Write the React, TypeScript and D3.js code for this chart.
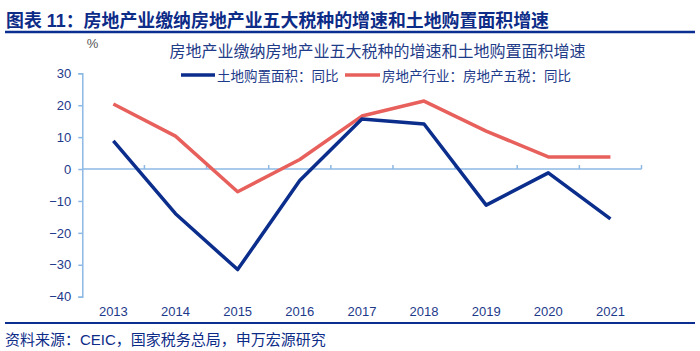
import React, { useEffect, useRef } from 'react';
import * as d3 from 'd3';

const years = ['2013', '2014', '2015', '2016', '2017', '2018', '2019', '2020', '2021'];
const landArea = [8.8, -14.0, -31.5, -3.6, 15.7, 14.1, -11.3, -1.2, -15.6];
const fiveTaxes = [20.4, 10.3, -7.1, 3.0, 16.6, 21.3, 11.9, 3.8, 3.8];
const yTicks = [-40, -30, -20, -10, 0, 10, 20, 30];

const seriesNames = ['土地购置面积：同比', '房地产行业：房地产五税：同比'];
const headerTitle = '图表 11：房地产业缴纳房地产业五大税种的增速和土地购置面积增速';
const chartTitle = '房地产业缴纳房地产业五大税种的增速和土地购置面积增速';
const sourceText = '资料来源：CEIC，国家税务总局，申万宏源研究';

const FONT = '"Liberation Sans", Arial, "Noto Sans CJK SC", sans-serif';

const App: React.FC = () => {
  const svgRef = useRef<SVGSVGElement | null>(null);

  useEffect(() => {
    if (!svgRef.current) return;
    const W = 700;
    const H = 351;
    const svg = d3.select(svgRef.current).attr('width', W).attr('height', H);
    svg.selectAll('*').remove();

    const navy = '#0b2d8c';
    const red = '#e8605c';
    const axisColor = '#8db8e4';
    const textBlue = '#1d3a8a';

    // header
    svg
      .append('text')
      .attr('x', 6)
      .attr('y', 27)
      .attr('font-family', FONT)
      .attr('font-size', 18)
      .attr('font-weight', 'bold')
      .attr('fill', '#0d2c88')
      .attr('textLength', 543)
      .attr('lengthAdjust', 'spacingAndGlyphs')
      .text(headerTitle);
    svg
      .append('line')
      .attr('x1', 5)
      .attr('x2', 695)
      .attr('y1', 32)
      .attr('y2', 32)
      .attr('stroke', '#0b2f91')
      .attr('stroke-width', 2.5);

    // scales
    const left = 82.3;
    const right = 641.5;
    const x = d3.scaleBand<string>().domain(years).range([left, right]).padding(0);
    const cx = (d: string) => x(d)! + x.bandwidth() / 2;
    const y = d3.scaleLinear().domain([-40, 30]).range([296.7, 73.3]);

    // y axis
    const yAxis = svg
      .append('g')
      .attr('transform', `translate(${left},0)`)
      .call(d3.axisLeft(y).tickValues(yTicks).tickSize(4).tickPadding(7));
    yAxis.selectAll('path, line').attr('stroke', axisColor).attr('stroke-width', 1.5);
    yAxis
      .selectAll('text')
      .attr('font-family', FONT)
      .attr('font-size', 13)
      .attr('fill', textBlue);

    // x axis line at zero with ticks on category boundaries
    const y0 = y(0);
    svg
      .append('line')
      .attr('x1', left)
      .attr('x2', right)
      .attr('y1', y0)
      .attr('y2', y0)
      .attr('stroke', axisColor)
      .attr('stroke-width', 1.5);
    const bounds = years.slice(1).map(d => x(d)!).concat([right]);
    svg
      .selectAll('line.xtick')
      .data(bounds)
      .enter()
      .append('line')
      .attr('class', 'xtick')
      .attr('x1', d => d)
      .attr('x2', d => d)
      .attr('y1', y0)
      .attr('y2', y0 - 4)
      .attr('stroke', axisColor)
      .attr('stroke-width', 1.5);

    // category labels at the bottom
    const xAxis = svg
      .append('g')
      .attr('transform', `translate(0,${y(-40)})`)
      .call(d3.axisBottom(x).tickSize(0).tickPadding(10));
    xAxis.select('.domain').remove();
    xAxis
      .selectAll('text')
      .attr('font-family', FONT)
      .attr('font-size', 13)
      .attr('fill', textBlue);

    // lines
    const line = d3
      .line<number>()
      .x((_, i) => cx(years[i]))
      .y(d => y(d));
    svg
      .append('path')
      .datum(fiveTaxes)
      .attr('d', line)
      .attr('fill', 'none')
      .attr('stroke', red)
      .attr('stroke-width', 3.5)
      .attr('stroke-linejoin', 'round');
    svg
      .append('path')
      .datum(landArea)
      .attr('d', line)
      .attr('fill', 'none')
      .attr('stroke', navy)
      .attr('stroke-width', 3.5)
      .attr('stroke-linejoin', 'round');

    // % unit
    svg
      .append('text')
      .attr('x', 92.5)
      .attr('y', 48)
      .attr('text-anchor', 'middle')
      .attr('font-family', FONT)
      .attr('font-size', 13)
      .attr('fill', '#555')
      .text('%');

    // chart title
    svg
      .append('text')
      .attr('x', 377.5)
      .attr('y', 57)
      .attr('text-anchor', 'middle')
      .attr('font-family', FONT)
      .attr('font-size', 16)
      .attr('fill', '#1f3c88')
      .text(chartTitle);

    // legend
    const legend = [
      { name: seriesNames[0], color: navy, x0: 181, x1: 215 },
      { name: seriesNames[1], color: red, x0: 345, x1: 380 },
    ];
    legend.forEach(l => {
      svg
        .append('line')
        .attr('x1', l.x0)
        .attr('x2', l.x1)
        .attr('y1', 75)
        .attr('y2', 75)
        .attr('stroke', l.color)
        .attr('stroke-width', 3.5);
      svg
        .append('text')
        .attr('x', l.x1 + 2)
        .attr('y', 80.5)
        .attr('font-family', FONT)
        .attr('font-size', 13.5)
        .attr('fill', textBlue)
        .text(l.name);
    });

    // footer
    svg
      .append('line')
      .attr('x1', 5)
      .attr('x2', 695)
      .attr('y1', 323)
      .attr('y2', 323)
      .attr('stroke', '#0b2f91')
      .attr('stroke-width', 2);
    svg
      .append('text')
      .attr('x', 5)
      .attr('y', 345)
      .attr('font-family', FONT)
      .attr('font-size', 15)
      .attr('fill', '#0d2c88')
      .text(sourceText);
  }, []);

  return (
    <div style={{ position: 'absolute', left: 0, top: 0, width: 700, height: 351, background: '#fff' }}>
      <svg ref={svgRef} style={{ display: 'block' }} />
    </div>
  );
};

export default App;
